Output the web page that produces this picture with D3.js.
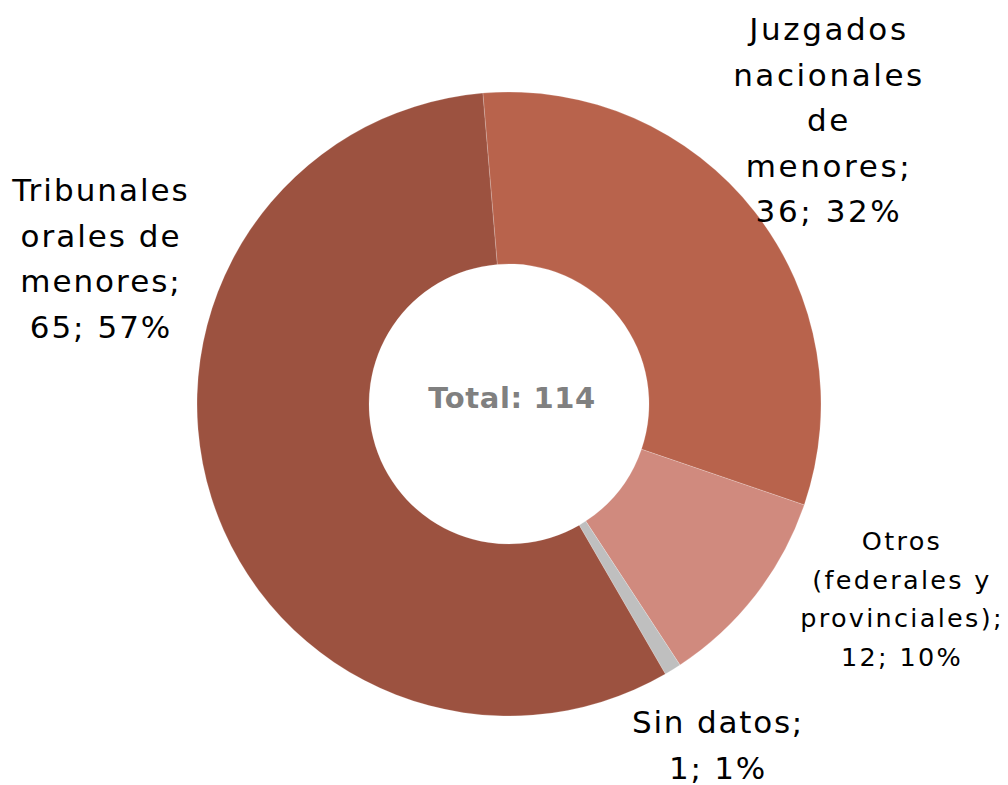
<!DOCTYPE html>
<html>
<head>
<meta charset="utf-8">
<script src="https://cdn.jsdelivr.net/npm/d3@7"></script>
<style>
  html, body { margin: 0; padding: 0; background: #fff; }
  svg { display: block; }
</style>
</head>
<body>
<svg id="chart" width="1008" height="785"></svg>
<script>
(() => {
    // Data
    const categories = ["Juzgados nacionales de menores", "Otros (federales y provinciales)", "Sin datos", "Tribunales orales de menores"];
    const values = [36, 12, 1, 65];
    const percents = ["32%", "10%", "1%", "57%"];
    const labelLines = [
        ["Juzgados", "nacionales", "de", "menores;", "36; 32%"],
        ["Otros", "(federales y", "provinciales);", "12; 10%"],
        ["Sin datos;", "1; 1%"],
        ["Tribunales", "orales de", "menores;", "65; 57%"]
    ];
    const total = d3.sum(values);

    const colors = ["#B8634C", "#D08A7E", "#BFBFBF", "#9C5240"];

    const svg = d3.select("#chart");
    const cx = 509, cy = 404;
    const outerR = 312, innerR = 140;
    const startAngle = -0.084;

    const g = svg.append("g").attr("transform", `translate(${cx},${cy})`);

    const pie = d3.pie().sort(null)
        .startAngle(startAngle)
        .endAngle(startAngle + 2 * Math.PI);
    const arc = d3.arc().innerRadius(innerR).outerRadius(outerR);

    const arcs = pie(values);

    g.selectAll("path.slice")
        .data(arcs)
        .enter().append("path")
        .attr("class", "slice")
        .attr("d", arc)
        .attr("fill", (d, i) => colors[i])
        .attr("stroke", "#fff")
        .attr("stroke-width", 0.2);

    // Centre total
    g.append("text")
        .attr("x", 3)
        .attr("y", 4)
        .attr("text-anchor", "middle")
        .attr("font-family", "'Century Gothic', 'DejaVu Sans', sans-serif")
        .attr("font-weight", "bold")
        .attr("font-size", "29px")
        .attr("letter-spacing", "0.6px")
        .attr("fill", "#808080")
        .text(`Total: ${total}`);

    // Label placement (absolute, relative to svg): centre x, first baseline, line height, font size
    const labelLayout = [
        { x: 829, y: 40, lh: 45.5, fs: 31, ls: 2.6 },
        { x: 902, y: 550, lh: 38.5, fs: 25.5, ls: 2.3 },
        { x: 718, y: 733, lh: 46, fs: 31, ls: 1.8 },
        { x: 101, y: 201, lh: 45.5, fs: 31, ls: 2 }
    ];

    const labels = svg.selectAll("text.label")
        .data(arcs)
        .enter().append("text")
        .attr("class", "label")
        .attr("text-anchor", "middle")
        .attr("font-family", "'Century Gothic', 'DejaVu Sans', sans-serif")
        .attr("font-size", (d, i) => labelLayout[i].fs + "px")
        .attr("letter-spacing", (d, i) => labelLayout[i].ls + "px")
        .attr("fill", "#000");

    labels.each(function (d, i) {
        const L = labelLayout[i];
        d3.select(this).selectAll("tspan")
            .data(labelLines[i])
            .enter().append("tspan")
            .attr("x", L.x)
            .attr("y", (t, j) => L.y + j * L.lh)
            .text(t => t);
    });
})();
</script>
</body>
</html>
